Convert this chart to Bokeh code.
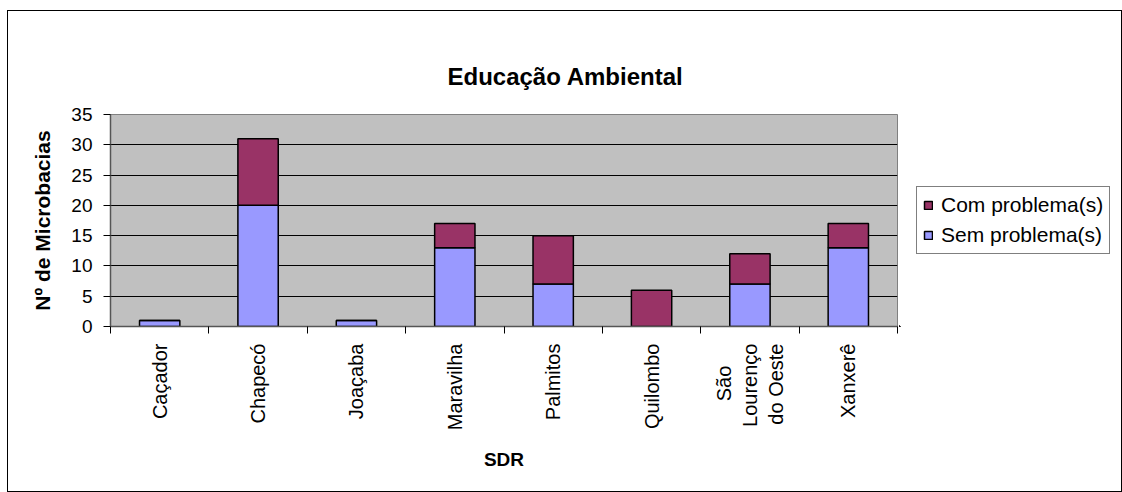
import math
import numpy as np
from bokeh.plotting import figure
from bokeh.layouts import row
from bokeh.models import Range1d, FixedTicker, ColumnDataSource, Legend, LegendItem
from bokeh.embed import file_html
from bokeh.resources import INLINE

# ---- data ----
categories = ["Caçador", "Chapecó", "Joaçaba", "Maravilha", "Palmitos",
              "Quilombo", "São Lourenço do Oeste", "Xanxerê"]
tick_labels = ["Caçador", "Chapecó", "Joaçaba", "Maravilha", "Palmitos",
               "Quilombo", "São\u00a0\u00a0\u00a0\u00a0\nLourenço\ndo Oeste", "Xanxerê"]
sem_problema = [1, 20, 1, 13, 7, 0, 7, 13]
com_problema = [0, 11, 0, 4, 8, 6, 5, 4]
series_labels = ["Sem problema(s)", "Com problema(s)"]
series_colors = ["#9999FF", "#993366"]
y_ticks = [0, 5, 10, 15, 20, 25, 30, 35]

FONT = "Liberation Sans"

n = len(categories)
x_pos = np.arange(n) + 0.5
src = ColumnDataSource(dict(x=x_pos, sem=sem_problema, com=com_problema))

p = figure(width=891, height=480, output_backend="svg", toolbar_location=None,
           x_range=Range1d(0, n), y_range=Range1d(0, 35),
           min_border_left=102, min_border_right=2, min_border_top=103,
           min_border_bottom=165, title="Educação Ambiental")

p.background_fill_color = "#C0C0C0"
p.border_fill_color = "white"
p.outline_line_color = "#808080"
p.outline_line_width = 1

# title
p.title.align = "left"
p.title.offset = 337
p.title.text_font = FONT
p.title.text_font_size = "24px"
p.title.text_font_style = "bold"
p.title.text_color = "black"
p.title.standoff = 49

# bars
rs = p.vbar_stack(["sem", "com"], x="x", width=0.41, source=src,
                  fill_color=series_colors, line_color="black", line_width=1.5)

# grid
p.xgrid.grid_line_color = None
p.ygrid.grid_line_color = "black"
p.ygrid.grid_line_width = 1
p.ygrid.ticker = FixedTicker(ticks=y_ticks)

# y axis
ya = p.yaxis[0]
ya.ticker = FixedTicker(ticks=y_ticks)
ya.axis_line_color = "#555555"
ya.axis_line_width = 1.5
ya.major_tick_line_color = "black"
ya.major_tick_in = 0
ya.major_tick_out = 7
ya.minor_tick_line_color = None
ya.major_label_standoff = 11
ya.major_label_text_font = FONT
ya.major_label_text_font_size = "19px"
ya.major_label_text_color = "black"
ya.axis_label = "Nº de Microbacias"
ya.axis_label_text_font = FONT
ya.axis_label_text_font_size = "21px"
ya.axis_label_text_font_style = "bold"
ya.axis_label_text_color = "black"
ya.axis_label_standoff = 14

# x axis
xa = p.xaxis[0]
xa.ticker = FixedTicker(ticks=list(x_pos), minor_ticks=list(range(n + 1)))
xa.major_label_overrides = {float(xv): lbl for xv, lbl in zip(x_pos, tick_labels)}
xa.axis_line_color = "#555555"
xa.axis_line_width = 1.5
xa.major_tick_line_color = None
xa.major_tick_in = 0
xa.major_tick_out = 7
xa.minor_tick_line_color = "black"
xa.minor_tick_in = 0
xa.minor_tick_out = 7
xa.major_label_orientation = math.pi / 2
xa.major_label_standoff = 10
xa.major_label_text_font = FONT
xa.major_label_text_font_size = "20px"
xa.major_label_text_color = "black"
xa.axis_label = "SDR"
xa.axis_label_text_font = FONT
xa.axis_label_text_font_size = "19px"
xa.axis_label_text_font_style = "bold"
xa.axis_label_text_color = "black"
xa.axis_label_standoff = 16

# legend panel (separate figure so that the legend is not clipped);
# its renderers use the same data but lie fully outside its visible ranges
pl = figure(width=222, height=480, output_backend="svg", toolbar_location=None,
            x_range=Range1d(100, 101), y_range=Range1d(100, 135),
            x_axis_location=None, y_axis_location=None,
            min_border_left=0, min_border_right=0, min_border_top=103, min_border_bottom=165)
pl.outline_line_color = None
pl.background_fill_color = "white"
pl.border_fill_color = "white"
pl.grid.visible = False
proxies = pl.vbar_stack(["sem", "com"], x="x", width=0.41, source=src,
                        fill_color=series_colors, line_color="black", line_width=1.5)

legend = Legend(items=[LegendItem(label=series_labels[1], renderers=[proxies[1]]),
                       LegendItem(label=series_labels[0], renderers=[proxies[0]])],
                location="center_left")
legend.border_line_color = "black"
legend.border_line_width = 1
legend.background_fill_color = "white"
legend.background_fill_alpha = 1
legend.label_text_font = FONT
legend.label_text_font_size = "21px"
legend.label_text_color = "black"
legend.glyph_width = 10
legend.glyph_height = 10
legend.label_standoff = 8
legend.spacing = 6
legend.padding = 6
legend.margin = 17
pl.add_layout(legend)

layout = row(p, pl)
layout.styles = {"border": "1px solid black", "margin-left": "7px", "margin-top": "10px"}

open("out.html", "w").write(file_html(layout, INLINE))
